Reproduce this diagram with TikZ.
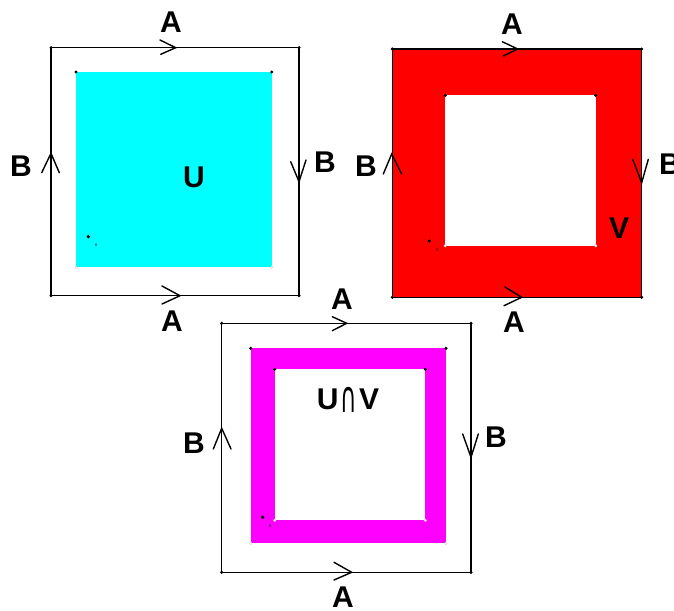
\documentclass[tikz,border=0pt]{standalone}
\usepackage{fontspec}
\setmainfont{Liberation Sans}
\newfontfamily\symfont{DejaVu Sans}
\definecolor{cyanR}{RGB}{0,255,255}
\definecolor{redR}{RGB}{255,0,0}
\definecolor{magR}{RGB}{255,0,255}
\begin{document}
\begin{tikzpicture}[x=1pt,y=-1pt,
  edge/.style={line width=1.4pt},
  chev/.style={line width=1.4pt, line cap=round},
  lbl/.style={font=\bfseries\fontsize{30}{30}\selectfont, inner sep=0pt},
  tiny/.style={font=\fontsize{5}{5}\selectfont, inner sep=0pt},
  bdot/.style={fill=black},
  wdot/.style={fill=white, draw=gray!40, line width=0.3pt}]
\useasboundingbox (0,0) rectangle (674,610);

% ---------- panel 1 : U ----------
\coordinate (p1a) at (51,47.7);
\coordinate (p1b) at (299,295.7);
\fill[cyanR] (76,72) rectangle (271.7,267.3);
\draw[edge] (p1a) rectangle (p1b);
\draw[chev] (160,40) -- (175.7,47.7) -- (160.7,54.3);
\draw[chev] (162,286) -- (180,295.7) -- (162,304);
\draw[chev] (41.7,172.7) -- (51,153.3) -- (59.3,172.7);
\draw[chev] (290.7,161.7) -- (299,181.7) -- (306,160);
\foreach \p in {(51,47.7),(299,47.7),(51,295.7),(299,295.7),(76,72),(271.7,72)}
  \fill[bdot] \p circle (1.7pt);
\foreach \p in {(76,267.3),(271.7,267.3)}
  \draw[wdot] \p circle (1.4pt);
\fill[bdot] (88.3,236.7) circle (1.8pt);
\node[tiny] (x1) at (96,245.5) {x};
\node[lbl] (a1t) at (171,22) {A};
\node[lbl] (a1b) at (172,321) {A};
\node[lbl] (b1l) at (21,166) {B};
\node[lbl] (b1r) at (325,162) {B};
\node[lbl] (u1) at (194,177) {U};

% ---------- panel 2 : V ----------
\coordinate (p2a) at (392.3,49);
\coordinate (p2b) at (641.7,297.3);
\fill[redR] (p2a) rectangle (p2b);
\fill[white] (445.3,95.3) rectangle (595.7,245.7);
\draw[edge] (p2a) rectangle (p2b);
\draw[chev] (502.3,41.7) -- (517.7,49) -- (503.3,56);
\draw[chev] (505,287) -- (521.7,297.3) -- (504,305.7);
\draw[chev] (383.3,174) -- (391.7,154) -- (401.7,174);
\draw[chev] (632.7,159.3) -- (641.7,182.7) -- (648.3,159.3);
\foreach \p in {(392.3,49),(641.7,49),(392.3,297.3),(641.7,297.3),(445.3,95.3),(595.7,95.3)}
  \fill[bdot] \p circle (1.7pt);
\foreach \p in {(445.3,245.7),(595.7,245.7)}
  \draw[wdot] \p circle (1.4pt);
\fill[bdot] (429.3,241) circle (1.8pt);
\node[tiny] (x2) at (437.3,250) {x};
\node[lbl] (a2t) at (512,24) {A};
\node[lbl] (a2b) at (514,322) {A};
\node[lbl] (b2l) at (366,166) {B};
\node[lbl] (b2r) at (670,164) {B};
\node[lbl] (v2) at (619,228) {V};

% ---------- panel 3 : U cap V ----------
\coordinate (p3a) at (221.7,323.3);
\coordinate (p3b) at (471,572.3);
\fill[magR] (250.7,348.3) rectangle (446,543.3);
\fill[white] (274.7,369.3) rectangle (425.3,520.3);
\draw[edge] (p3a) rectangle (p3b);
\draw[chev] (332.3,316.7) -- (346.7,323.3) -- (332.3,330.7);
\draw[chev] (334,562.3) -- (351.7,572.3) -- (334,580);
\draw[chev] (213.3,449) -- (221.7,428.3) -- (231,449);
\draw[chev] (462.7,434) -- (471,457.3) -- (478.3,434);
\foreach \p in {(221.7,323.3),(471,323.3),(221.7,572.3),(471,572.3),(250.7,348.3),(446,348.3),(274.7,369.3),(425.3,369.3)}
  \fill[bdot] \p circle (1.7pt);
\foreach \p in {(250.7,543.3),(446,543.3),(274.7,520.3),(425.3,520.3)}
  \draw[wdot] \p circle (1.4pt);
\fill[bdot] (262.7,517.3) circle (1.8pt);
\node[tiny] (x3) at (270,526) {x};
\node[lbl] (a3t) at (342,299) {A};
\node[lbl] (a3b) at (343,597) {A};
\node[lbl] (b3l) at (194,443) {B};
\node[lbl] (b3r) at (496,437) {B};
\node[lbl, anchor=base] (uv3) at (348,409) {U\hspace{2pt}{\mdseries\symfont\raisebox{-3.5pt}{\scalebox{0.75}[1.45]{\char"2229}}}\hspace{2pt}V};
\end{tikzpicture}
\end{document}
